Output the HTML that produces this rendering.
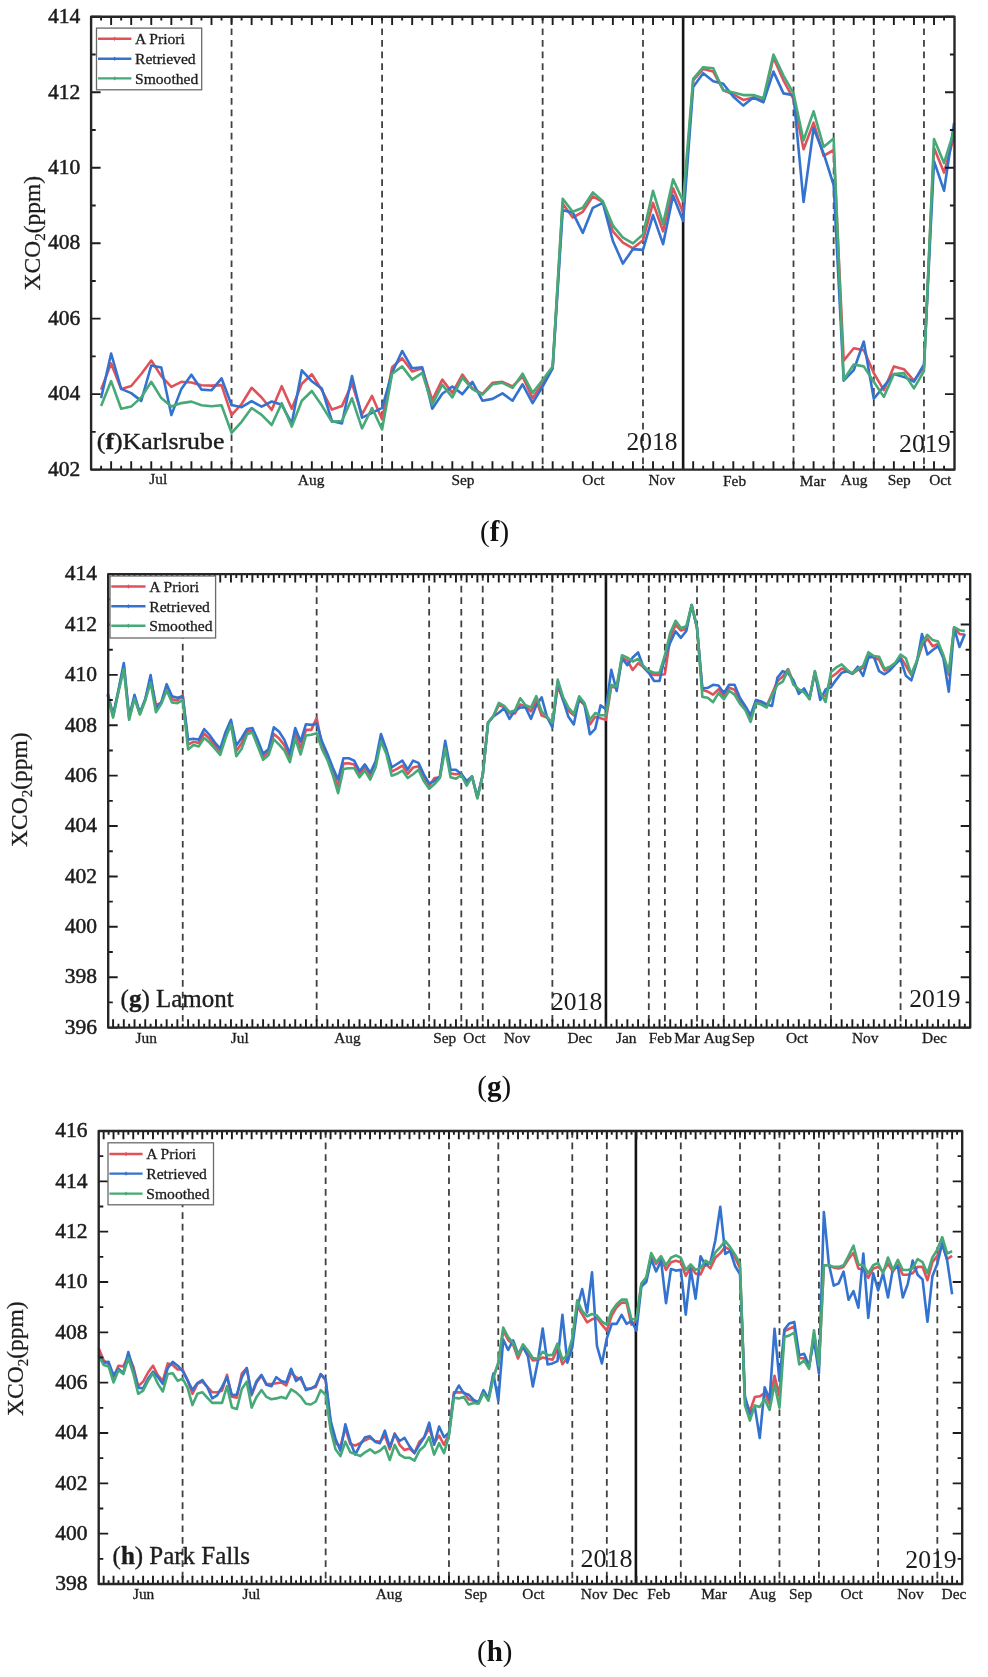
<!DOCTYPE html>
<html><head><meta charset="utf-8"><style>
html,body{margin:0;padding:0;background:#fff;}
svg{display:block;filter:blur(0.4px);}
</style></head><body>
<svg width="988" height="1677" viewBox="0 0 988 1677">
<rect width="988" height="1677" fill="#fff"/>
<line x1="231.56" y1="16.8" x2="231.56" y2="469.6" stroke="#404040" stroke-width="1.8" stroke-dasharray="6.7 4.9"/>
<line x1="382.08" y1="16.8" x2="382.08" y2="469.6" stroke="#404040" stroke-width="1.8" stroke-dasharray="6.7 4.9"/>
<line x1="542.64" y1="16.8" x2="542.64" y2="469.6" stroke="#404040" stroke-width="1.8" stroke-dasharray="6.7 4.9"/>
<line x1="642.99" y1="16.8" x2="642.99" y2="469.6" stroke="#404040" stroke-width="1.8" stroke-dasharray="6.7 4.9"/>
<line x1="793.51" y1="16.8" x2="793.51" y2="469.6" stroke="#404040" stroke-width="1.8" stroke-dasharray="6.7 4.9"/>
<line x1="833.66" y1="16.8" x2="833.66" y2="469.6" stroke="#404040" stroke-width="1.8" stroke-dasharray="6.7 4.9"/>
<line x1="873.8" y1="16.8" x2="873.8" y2="469.6" stroke="#404040" stroke-width="1.8" stroke-dasharray="6.7 4.9"/>
<line x1="923.97" y1="16.8" x2="923.97" y2="469.6" stroke="#404040" stroke-width="1.8" stroke-dasharray="6.7 4.9"/>
<line x1="683.13" y1="16.8" x2="683.13" y2="469.6" stroke="#141414" stroke-width="2.6"/>
<polyline points="101.1,389.6 111.13,363.4 121.17,388.9 131.2,386 141.24,374 151.27,360.5 161.31,376.1 171.34,386.8 181.38,381.8 191.41,382.5 201.45,385.3 211.49,385.6 221.52,385.1 231.56,415.2 241.59,404 251.62,387.8 261.66,397.5 271.69,410 281.73,386.2 291.76,408.8 301.8,383.7 311.84,374.3 321.87,390.2 331.9,409.6 341.94,406.1 351.98,383.7 362.01,414.5 372.04,395.9 382.08,419.3 392.12,367.3 402.15,358.2 412.18,371.5 422.22,368.3 432.25,400.1 442.29,379.6 452.33,392.9 462.36,374.6 472.39,388.3 482.43,393.8 492.47,382.8 502.5,381.9 512.53,386.5 522.57,376.5 532.61,398.3 542.64,382.8 552.67,367.3 562.71,203.7 572.75,217.5 582.78,211.8 592.82,196.4 602.85,202.1 612.88,231.3 622.92,242.6 632.96,248.3 642.99,240.2 653.02,202.9 663.06,231.3 673.1,188.3 683.13,212.5 693.17,80.5 703.2,69.1 713.24,71.6 723.27,90.2 733.31,94.3 743.34,99.9 753.38,97.5 763.41,100.7 773.45,57.8 783.48,80.5 793.51,99.1 803.55,149.3 813.59,122.6 823.62,155.8 833.66,150 843.69,360.6 853.73,348.2 863.76,350.1 873.8,373.1 883.83,390.2 893.87,366.4 903.9,369.2 913.94,380.7 923.97,367.3 934,147.7 944.04,172.6 954.08,136.3" fill="none" stroke="#e0525a" stroke-width="2.6" stroke-linejoin="round"/>
<polyline points="101.1,398.1 111.13,353.5 121.17,388.9 131.2,393.1 141.24,400.9 151.27,365.5 161.31,367.6 171.34,415.1 181.38,388.9 191.41,374.7 201.45,389.6 211.49,390.3 221.52,378.3 231.56,405 241.59,407.2 251.62,401.2 261.66,406.7 271.69,401.5 281.73,404.8 291.76,423.4 301.8,370.4 311.84,381.3 321.87,388.6 331.9,421 341.94,423.4 351.98,376 362.01,417.7 372.04,412.9 382.08,407.8 392.12,372.8 402.15,351 412.18,368.3 422.22,367.3 432.25,408.7 442.29,393.8 452.33,386.5 462.36,394.1 472.39,381.9 482.43,400.7 492.47,398.9 502.5,393.4 512.53,400.7 522.57,384.3 532.61,403.2 542.64,386.5 552.67,368.3 562.71,210.2 572.75,212.6 582.78,232.9 592.82,207.8 602.85,202.9 612.88,241 622.92,263.6 632.96,249.1 642.99,249.9 653.02,215.1 663.06,244.2 673.1,195.6 683.13,221 693.17,87 703.2,73.2 713.24,81.3 723.27,83.7 733.31,96.7 743.34,105.6 753.38,97.5 763.41,102.3 773.45,71.6 783.48,93.4 793.51,95.1 803.55,202 813.59,128.3 823.62,153.4 833.66,185 843.69,380.7 853.73,370.2 863.76,341.5 873.8,398.8 883.83,386.4 893.87,374 903.9,376.9 913.94,381.7 923.97,364.5 934,161.1 944.04,190.7 954.08,122.9" fill="none" stroke="#3372cf" stroke-width="2.6" stroke-linejoin="round"/>
<polyline points="101.1,405.9 111.13,381.1 121.17,408.7 131.2,406.6 141.24,397.4 151.27,381.8 161.31,398.1 171.34,406.6 181.38,403.1 191.41,401.6 201.45,405.2 211.49,406.3 221.52,405.2 231.56,432.8 241.59,421.8 251.62,408 261.66,414.8 271.69,425 281.73,403.2 291.76,426.6 301.8,400.7 311.84,391 321.87,405.6 331.9,421.8 341.94,421 351.98,398.3 362.01,428.3 372.04,408 382.08,429.5 392.12,373.7 402.15,366.4 412.18,379.6 422.22,372.8 432.25,404.7 442.29,384.7 452.33,397.4 462.36,377.7 472.39,389.2 482.43,394.7 492.47,384.3 502.5,382.8 512.53,387.9 522.57,373.7 532.61,392.9 542.64,380.1 552.67,366.4 562.71,198.9 572.75,211.8 582.78,207.8 592.82,192.4 602.85,201.3 612.88,225.6 622.92,237.7 632.96,243.4 642.99,234.5 653.02,190.8 663.06,224 673.1,179.4 683.13,201.2 693.17,78.9 703.2,67.2 713.24,68.3 723.27,90.2 733.31,92.6 743.34,95.1 753.38,95.1 763.41,98.3 773.45,54.6 783.48,75.6 793.51,93.4 803.55,140.4 813.59,111.3 823.62,146.9 833.66,138.5 843.69,379.7 853.73,364.5 863.76,366.4 873.8,381.7 883.83,396.9 893.87,374 903.9,373.1 913.94,388.3 923.97,371.1 934,139.1 944.04,163 954.08,130.6" fill="none" stroke="#46a977" stroke-width="2.6" stroke-linejoin="round"/>
<path d="M101.1 469.6v-3.8M101.1 16.8v3.8M111.13 469.6v-8.3M111.13 16.8v8.3M121.17 469.6v-3.8M121.17 16.8v3.8M131.2 469.6v-8.3M131.2 16.8v8.3M141.24 469.6v-3.8M141.24 16.8v3.8M151.27 469.6v-8.3M151.27 16.8v8.3M161.31 469.6v-3.8M161.31 16.8v3.8M171.34 469.6v-8.3M171.34 16.8v8.3M181.38 469.6v-3.8M181.38 16.8v3.8M191.41 469.6v-8.3M191.41 16.8v8.3M201.45 469.6v-3.8M201.45 16.8v3.8M211.49 469.6v-8.3M211.49 16.8v8.3M221.52 469.6v-3.8M221.52 16.8v3.8M231.56 469.6v-8.3M231.56 16.8v8.3M241.59 469.6v-3.8M241.59 16.8v3.8M251.62 469.6v-8.3M251.62 16.8v8.3M261.66 469.6v-3.8M261.66 16.8v3.8M271.69 469.6v-8.3M271.69 16.8v8.3M281.73 469.6v-3.8M281.73 16.8v3.8M291.76 469.6v-8.3M291.76 16.8v8.3M301.8 469.6v-3.8M301.8 16.8v3.8M311.84 469.6v-8.3M311.84 16.8v8.3M321.87 469.6v-3.8M321.87 16.8v3.8M331.9 469.6v-8.3M331.9 16.8v8.3M341.94 469.6v-3.8M341.94 16.8v3.8M351.98 469.6v-8.3M351.98 16.8v8.3M362.01 469.6v-3.8M362.01 16.8v3.8M372.04 469.6v-8.3M372.04 16.8v8.3M382.08 469.6v-3.8M382.08 16.8v3.8M392.12 469.6v-8.3M392.12 16.8v8.3M402.15 469.6v-3.8M402.15 16.8v3.8M412.18 469.6v-8.3M412.18 16.8v8.3M422.22 469.6v-3.8M422.22 16.8v3.8M432.25 469.6v-8.3M432.25 16.8v8.3M442.29 469.6v-3.8M442.29 16.8v3.8M452.33 469.6v-8.3M452.33 16.8v8.3M462.36 469.6v-3.8M462.36 16.8v3.8M472.39 469.6v-8.3M472.39 16.8v8.3M482.43 469.6v-3.8M482.43 16.8v3.8M492.47 469.6v-8.3M492.47 16.8v8.3M502.5 469.6v-3.8M502.5 16.8v3.8M512.53 469.6v-8.3M512.53 16.8v8.3M522.57 469.6v-3.8M522.57 16.8v3.8M532.61 469.6v-8.3M532.61 16.8v8.3M542.64 469.6v-3.8M542.64 16.8v3.8M552.67 469.6v-8.3M552.67 16.8v8.3M562.71 469.6v-3.8M562.71 16.8v3.8M572.75 469.6v-8.3M572.75 16.8v8.3M582.78 469.6v-3.8M582.78 16.8v3.8M592.82 469.6v-8.3M592.82 16.8v8.3M602.85 469.6v-3.8M602.85 16.8v3.8M612.88 469.6v-8.3M612.88 16.8v8.3M622.92 469.6v-3.8M622.92 16.8v3.8M632.96 469.6v-8.3M632.96 16.8v8.3M642.99 469.6v-3.8M642.99 16.8v3.8M653.02 469.6v-8.3M653.02 16.8v8.3M663.06 469.6v-3.8M663.06 16.8v3.8M673.1 469.6v-8.3M673.1 16.8v8.3M683.13 469.6v-3.8M683.13 16.8v3.8M693.17 469.6v-8.3M693.17 16.8v8.3M703.2 469.6v-3.8M703.2 16.8v3.8M713.24 469.6v-8.3M713.24 16.8v8.3M723.27 469.6v-3.8M723.27 16.8v3.8M733.31 469.6v-8.3M733.31 16.8v8.3M743.34 469.6v-3.8M743.34 16.8v3.8M753.38 469.6v-8.3M753.38 16.8v8.3M763.41 469.6v-3.8M763.41 16.8v3.8M773.45 469.6v-8.3M773.45 16.8v8.3M783.48 469.6v-3.8M783.48 16.8v3.8M793.51 469.6v-8.3M793.51 16.8v8.3M803.55 469.6v-3.8M803.55 16.8v3.8M813.59 469.6v-8.3M813.59 16.8v8.3M823.62 469.6v-3.8M823.62 16.8v3.8M833.66 469.6v-8.3M833.66 16.8v8.3M843.69 469.6v-3.8M843.69 16.8v3.8M853.73 469.6v-8.3M853.73 16.8v8.3M863.76 469.6v-3.8M863.76 16.8v3.8M873.8 469.6v-8.3M873.8 16.8v8.3M883.83 469.6v-3.8M883.83 16.8v3.8M893.87 469.6v-8.3M893.87 16.8v8.3M903.9 469.6v-3.8M903.9 16.8v3.8M913.94 469.6v-8.3M913.94 16.8v8.3M923.97 469.6v-3.8M923.97 16.8v3.8M934 469.6v-8.3M934 16.8v8.3M944.04 469.6v-3.8M944.04 16.8v3.8M91.1 469.6h9.5M954.5 469.6h-9.5M91.1 431.87h4.6M954.5 431.87h-4.6M91.1 394.13h9.5M954.5 394.13h-9.5M91.1 356.4h4.6M954.5 356.4h-4.6M91.1 318.67h9.5M954.5 318.67h-9.5M91.1 280.93h4.6M954.5 280.93h-4.6M91.1 243.2h9.5M954.5 243.2h-9.5M91.1 205.47h4.6M954.5 205.47h-4.6M91.1 167.73h9.5M954.5 167.73h-9.5M91.1 130h4.6M954.5 130h-4.6M91.1 92.27h9.5M954.5 92.27h-9.5M91.1 54.53h4.6M954.5 54.53h-4.6M91.1 16.8h9.5M954.5 16.8h-9.5" stroke="#1c1c1c" stroke-width="1.9" fill="none"/>
<rect x="91.1" y="16.8" width="863.4" height="452.8" fill="none" stroke="#262626" stroke-width="2.4" stroke-linejoin="round"/>
<text x="80.2" y="475.84" text-anchor="end" font-size="21.5" font-family="Liberation Serif" fill="#1c1c1c" stroke="#1c1c1c" stroke-width="0.5">402</text>
<text x="80.2" y="400.37" text-anchor="end" font-size="21.5" font-family="Liberation Serif" fill="#1c1c1c" stroke="#1c1c1c" stroke-width="0.5">404</text>
<text x="80.2" y="324.9" text-anchor="end" font-size="21.5" font-family="Liberation Serif" fill="#1c1c1c" stroke="#1c1c1c" stroke-width="0.5">406</text>
<text x="80.2" y="249.44" text-anchor="end" font-size="21.5" font-family="Liberation Serif" fill="#1c1c1c" stroke="#1c1c1c" stroke-width="0.5">408</text>
<text x="80.2" y="173.97" text-anchor="end" font-size="21.5" font-family="Liberation Serif" fill="#1c1c1c" stroke="#1c1c1c" stroke-width="0.5">410</text>
<text x="80.2" y="98.5" text-anchor="end" font-size="21.5" font-family="Liberation Serif" fill="#1c1c1c" stroke="#1c1c1c" stroke-width="0.5">412</text>
<text x="80.2" y="23.04" text-anchor="end" font-size="21.5" font-family="Liberation Serif" fill="#1c1c1c" stroke="#1c1c1c" stroke-width="0.5">414</text>
<text x="158.3" y="483.5" text-anchor="middle" font-size="15.4" font-family="Liberation Serif" fill="#1c1c1c" stroke="#1c1c1c" stroke-width="0.3">Jul</text>
<text x="311.1" y="484.7" text-anchor="middle" font-size="15.4" font-family="Liberation Serif" fill="#1c1c1c" stroke="#1c1c1c" stroke-width="0.3">Aug</text>
<text x="463" y="484.7" text-anchor="middle" font-size="15.4" font-family="Liberation Serif" fill="#1c1c1c" stroke="#1c1c1c" stroke-width="0.3">Sep</text>
<text x="593.4" y="484.7" text-anchor="middle" font-size="15.4" font-family="Liberation Serif" fill="#1c1c1c" stroke="#1c1c1c" stroke-width="0.3">Oct</text>
<text x="661.7" y="484.7" text-anchor="middle" font-size="15.4" font-family="Liberation Serif" fill="#1c1c1c" stroke="#1c1c1c" stroke-width="0.3">Nov</text>
<text x="734.6" y="485.7" text-anchor="middle" font-size="15.4" font-family="Liberation Serif" fill="#1c1c1c" stroke="#1c1c1c" stroke-width="0.3">Feb</text>
<text x="812.7" y="485.7" text-anchor="middle" font-size="15.4" font-family="Liberation Serif" fill="#1c1c1c" stroke="#1c1c1c" stroke-width="0.3">Mar</text>
<text x="854.1" y="484.7" text-anchor="middle" font-size="15.4" font-family="Liberation Serif" fill="#1c1c1c" stroke="#1c1c1c" stroke-width="0.3">Aug</text>
<text x="899.2" y="484.7" text-anchor="middle" font-size="15.4" font-family="Liberation Serif" fill="#1c1c1c" stroke="#1c1c1c" stroke-width="0.3">Sep</text>
<text x="940.3" y="484.7" text-anchor="middle" font-size="15.4" font-family="Liberation Serif" fill="#1c1c1c" stroke="#1c1c1c" stroke-width="0.3">Oct</text>
<text transform="translate(39.5,233.2) rotate(-90)" text-anchor="middle" font-size="23.5" font-family="Liberation Serif" fill="#1c1c1c" stroke="#1c1c1c" stroke-width="0.25">XCO<tspan font-size="15" dy="5">2</tspan><tspan dy="-5">(ppm)</tspan></text>
<text x="96.8" y="448.8" font-size="22.5" font-family="Liberation Serif" fill="#1c1c1c" stroke="#1c1c1c" stroke-width="0.35" textLength="127.6" lengthAdjust="spacingAndGlyphs"><tspan>(</tspan><tspan font-weight="bold">f</tspan><tspan>)Karlsrube</tspan></text>
<text x="626.6" y="450.3" font-size="25" font-family="Liberation Serif" fill="#1c1c1c" textLength="51" lengthAdjust="spacingAndGlyphs">2018</text>
<text x="899" y="452.4" font-size="25" font-family="Liberation Serif" fill="#1c1c1c" textLength="51.7" lengthAdjust="spacingAndGlyphs">2019</text>
<rect x="96.5" y="28.1" width="105.2" height="61.7" fill="#fff" stroke="#6a6a6a" stroke-width="1.3"/>
<line x1="98" y1="38.7" x2="131.4" y2="38.7" stroke="#e0525a" stroke-width="2.4"/>
<path d="M113.1 38.7L114.7 36.5L116.3 38.7L114.7 40.9Z" fill="#e0525a"/>
<text x="135" y="44" font-size="15.6" font-family="Liberation Serif" fill="#1c1c1c" stroke="#1c1c1c" stroke-width="0.3">A Priori</text>
<line x1="98" y1="58.7" x2="131.4" y2="58.7" stroke="#3372cf" stroke-width="2.4"/>
<path d="M113.1 58.7L114.7 56.5L116.3 58.7L114.7 60.9Z" fill="#3372cf"/>
<text x="135" y="64" font-size="15.6" font-family="Liberation Serif" fill="#1c1c1c" stroke="#1c1c1c" stroke-width="0.3">Retrieved</text>
<line x1="98" y1="78.4" x2="131.4" y2="78.4" stroke="#46a977" stroke-width="2.4"/>
<path d="M113.1 78.4L114.7 76.2L116.3 78.4L114.7 80.6Z" fill="#46a977"/>
<text x="135" y="83.7" font-size="15.6" font-family="Liberation Serif" fill="#1c1c1c" stroke="#1c1c1c" stroke-width="0.3">Smoothed</text>
<text x="480.1" y="541.3" font-size="29" font-family="Liberation Serif" fill="#111">(<tspan font-weight="bold">f</tspan>)</text>
<line x1="182.74" y1="574.1" x2="182.74" y2="1027.6" stroke="#404040" stroke-width="1.8" stroke-dasharray="6.7 4.9"/>
<line x1="316.66" y1="574.1" x2="316.66" y2="1027.6" stroke="#404040" stroke-width="1.8" stroke-dasharray="6.7 4.9"/>
<line x1="429.16" y1="574.1" x2="429.16" y2="1027.6" stroke="#404040" stroke-width="1.8" stroke-dasharray="6.7 4.9"/>
<line x1="461.3" y1="574.1" x2="461.3" y2="1027.6" stroke="#404040" stroke-width="1.8" stroke-dasharray="6.7 4.9"/>
<line x1="482.73" y1="574.1" x2="482.73" y2="1027.6" stroke="#404040" stroke-width="1.8" stroke-dasharray="6.7 4.9"/>
<line x1="552.37" y1="574.1" x2="552.37" y2="1027.6" stroke="#404040" stroke-width="1.8" stroke-dasharray="6.7 4.9"/>
<line x1="648.8" y1="574.1" x2="648.8" y2="1027.6" stroke="#404040" stroke-width="1.8" stroke-dasharray="6.7 4.9"/>
<line x1="664.87" y1="574.1" x2="664.87" y2="1027.6" stroke="#404040" stroke-width="1.8" stroke-dasharray="6.7 4.9"/>
<line x1="697.01" y1="574.1" x2="697.01" y2="1027.6" stroke="#404040" stroke-width="1.8" stroke-dasharray="6.7 4.9"/>
<line x1="723.8" y1="574.1" x2="723.8" y2="1027.6" stroke="#404040" stroke-width="1.8" stroke-dasharray="6.7 4.9"/>
<line x1="755.94" y1="574.1" x2="755.94" y2="1027.6" stroke="#404040" stroke-width="1.8" stroke-dasharray="6.7 4.9"/>
<line x1="830.94" y1="574.1" x2="830.94" y2="1027.6" stroke="#404040" stroke-width="1.8" stroke-dasharray="6.7 4.9"/>
<line x1="900.58" y1="574.1" x2="900.58" y2="1027.6" stroke="#404040" stroke-width="1.8" stroke-dasharray="6.7 4.9"/>
<line x1="605.94" y1="574.1" x2="605.94" y2="1027.6" stroke="#141414" stroke-width="2.6"/>
<polyline points="107.74,694.55 113.1,716.25 118.45,691 123.81,666 129.17,718.4 134.53,696.7 139.88,713.75 145.24,699.75 150.6,678.8 155.95,705 161.31,702.95 166.67,687.2 172.02,699.35 177.38,700.45 182.74,695.5 188.09,744.5 193.45,741.85 198.81,743 204.17,733.5 209.52,738.8 214.88,745.65 220.24,751.75 225.59,735 230.95,722.1 236.31,751 241.67,743.35 247.02,731.65 252.38,730.3 257.74,743.15 263.09,756.8 268.45,752.25 273.81,734 279.16,738.6 284.52,745.4 289.88,757.95 295.24,733.3 300.59,748.05 305.95,729.85 311.31,729.85 316.66,718.1 322.02,745.4 327.38,756.8 332.73,771.2 338.09,786.4 343.45,763.65 348.81,763.25 354.16,764.4 359.52,774.25 364.88,767.45 370.23,776.15 375.59,764.4 380.95,737.8 386.3,751.5 391.66,771.6 397.02,768.9 402.38,765.55 407.73,773.85 413.09,767.45 418.45,766.3 423.8,777.7 429.16,786.05 434.52,778 439.87,777.25 445.23,744.65 450.59,773.5 455.95,774.25 461.3,773.5 466.66,783.35 472.02,776.5 477.37,797.75 482.73,775 488.09,722.6 493.44,716.15 498.8,705.2 504.16,707.05 509.52,713.5 514.87,713.5 520.23,704.4 525.59,706.35 530.94,711.3 536.3,700.6 541.66,715.5 547.01,717.5 552.37,724 557.73,686.4 563.09,700.1 568.44,710.7 573.8,715.3 579.16,700.1 584.51,704.7 589.87,724.4 595.23,716.8 600.58,718.3 605.94,719.8 611.3,686.4 616.65,688 622.01,657.6 627.37,660.6 632.73,670 638.08,663.3 643.44,667 648.8,672.8 654.15,675 659.51,675 664.87,674.2 670.23,637.75 675.58,624.8 680.94,630.5 686.3,628.65 691.65,605 697.01,628 702.37,690 707.72,691.6 713.08,694.6 718.44,689.3 723.8,696.15 729.15,687.8 734.51,689.7 739.87,700.7 745.22,707.9 750.58,718.55 755.94,701.45 761.29,703 766.65,706 772.01,693.9 777.37,681.35 782.72,676.4 788.08,669 793.44,682.5 798.79,691.6 804.15,690.4 809.51,698.8 814.86,671.85 820.22,696.1 825.58,695.75 830.94,677.2 836.29,673.5 841.65,668.55 847.01,670.45 852.36,674 857.72,670 863.08,668 868.43,655 873.79,657.5 879.15,659.8 884.5,670.5 889.86,668.6 895.22,663.65 900.58,656.8 905.93,665.9 911.29,675 916.65,662.15 922,646 927.36,638.6 932.72,646.2 938.08,643.9 943.43,656.8 948.79,675 954.15,627.6 959.5,634 964.86,634.8" fill="none" stroke="#e0525a" stroke-width="2.6" stroke-linejoin="round"/>
<polyline points="107.74,693.6 113.1,714.9 118.45,690 123.81,663 129.17,717 134.53,694.8 139.88,713 145.24,699 150.6,675 155.95,709 161.31,702 166.67,684.2 172.02,696.3 177.38,697.8 182.74,696.3 188.09,739.6 193.45,738.8 198.81,739.6 204.17,729 209.52,735 214.88,742.6 220.24,748.7 225.59,732 230.95,719.8 236.31,745.6 241.67,738 247.02,729 252.38,728 257.74,740.1 263.09,753.8 268.45,749.2 273.81,727.2 279.16,731.7 284.52,740.1 289.88,753.8 295.24,728 300.59,741.6 305.95,724.2 311.31,724.9 316.66,723.4 322.02,741.6 327.38,753.8 332.73,767.4 338.09,779.6 343.45,758.3 348.81,758.3 354.16,760.6 359.52,771.2 364.88,764.4 370.23,772.7 375.59,761.4 380.95,734 386.3,749.2 391.66,767.4 397.02,764 402.38,760.6 407.73,769.7 413.09,760.6 418.45,762.9 423.8,774.3 429.16,783.4 434.52,781.1 439.87,776.5 445.23,740.9 450.59,769.7 455.95,769.7 461.3,774 466.66,781.1 472.02,776.5 477.37,797 482.73,775 488.09,722.6 493.44,716.5 498.8,712.8 504.16,708.2 509.52,718.8 514.87,710.5 520.23,707.5 525.59,707.5 530.94,718.8 536.3,705.2 541.66,697.3 547.01,716.8 552.37,727.4 557.73,681.9 563.09,700.1 568.44,716.8 573.8,724.4 579.16,698.6 584.51,704.7 589.87,734.3 595.23,728.9 600.58,705.4 605.94,709.2 611.3,669.7 616.65,691 622.01,658.3 627.37,665.2 632.73,657.5 638.08,652.5 643.44,667 648.8,672.7 654.15,681 659.51,681 664.87,657 670.23,642.6 675.58,631.3 680.94,637.8 686.3,631 691.65,605 697.01,628 702.37,688.5 707.72,687.8 713.08,684.8 718.44,685.5 723.8,693.1 729.15,684.8 734.51,684.8 739.87,697.7 745.22,706 750.58,715.1 755.94,699.9 761.29,701.5 766.65,704.5 772.01,706 777.37,677.9 782.72,671.1 788.08,673.4 793.44,680.2 798.79,693.9 804.15,688.5 809.51,698.4 814.86,672.6 820.22,699.9 825.58,689.5 830.94,687.2 836.29,679.6 841.65,672.7 847.01,671.2 852.36,673.5 857.72,666.7 863.08,675.8 868.43,657.6 873.79,656.8 879.15,671.2 884.5,674.3 889.86,670.5 895.22,664.4 900.58,659.1 905.93,675.8 911.29,680.3 916.65,662.9 922,634 927.36,654.5 932.72,650 938.08,646.2 943.43,658.3 948.79,691.7 954.15,628 959.5,646.9 964.86,634" fill="none" stroke="#3372cf" stroke-width="2.6" stroke-linejoin="round"/>
<polyline points="107.74,695.5 113.1,717.6 118.45,692 123.81,669 129.17,719.8 134.53,698.6 139.88,714.5 145.24,700.5 150.6,682.6 155.95,712.2 161.31,703.9 166.67,690.2 172.02,702.4 177.38,703.1 182.74,700.1 188.09,749.4 193.45,744.9 198.81,746.4 204.17,738 209.52,742.6 214.88,748.7 220.24,754.8 225.59,738 230.95,724.4 236.31,756.3 241.67,748.7 247.02,734.3 252.38,732.6 257.74,746.2 263.09,759.8 268.45,755.3 273.81,739.3 279.16,744.7 284.52,750.7 289.88,762.1 295.24,738.6 300.59,754.5 305.95,735.5 311.31,734.8 316.66,733.3 322.02,749.2 327.38,759.8 332.73,775 338.09,793.2 343.45,769 348.81,768.2 354.16,768.2 359.52,777.3 364.88,770.5 370.23,779.6 375.59,767.4 380.95,741.6 386.3,753.8 391.66,775.8 397.02,773.8 402.38,770.5 407.73,778 413.09,774.3 418.45,769.7 423.8,781.1 429.16,788.7 434.52,784.1 439.87,778 445.23,748.4 450.59,777.3 455.95,778.8 461.3,775 466.66,785.6 472.02,776.5 477.37,798.5 482.73,775 488.09,722.6 493.44,715.8 498.8,702.9 504.16,705.9 509.52,712 514.87,710.5 520.23,698.3 525.59,705.2 530.94,707.5 536.3,696.1 541.66,711.5 547.01,716.8 552.37,722.9 557.73,679.6 563.09,697.1 568.44,707.7 573.8,713.8 579.16,696.3 584.51,703.1 589.87,719.8 595.23,713 600.58,715.3 605.94,715.3 611.3,684.9 616.65,686.4 622.01,655.3 627.37,657.6 632.73,661.5 638.08,659 643.44,666 648.8,670.8 654.15,672.7 659.51,672.7 664.87,655.5 670.23,632.9 675.58,620.8 680.94,628 686.3,626.3 691.65,605 697.01,627 702.37,696.9 707.72,697.7 713.08,702.2 718.44,693.1 723.8,699.2 729.15,690.8 734.51,694.6 739.87,703.7 745.22,709.8 750.58,722 755.94,703 761.29,704.5 766.65,707.5 772.01,695.4 777.37,684.8 782.72,681.7 788.08,669.6 793.44,684.8 798.79,689.3 804.15,692.3 809.51,699.2 814.86,671.1 820.22,692.3 825.58,702 830.94,672 836.29,667.4 841.65,664.4 847.01,669.7 852.36,673.5 857.72,668.9 863.08,665.9 868.43,652.2 873.79,656 879.15,656.8 884.5,668.9 889.86,666.7 895.22,662.9 900.58,654.5 905.93,658.3 911.29,674.3 916.65,661.4 922,643.1 927.36,634.8 932.72,640.1 938.08,641.6 943.43,655.3 948.79,672 954.15,627.2 959.5,630.2 964.86,631" fill="none" stroke="#46a977" stroke-width="2.6" stroke-linejoin="round"/>
<path d="M113.1 1027.6v-8.3M113.1 574.1v8.3M118.45 1027.6v-3.8M118.45 574.1v3.8M123.81 1027.6v-8.3M123.81 574.1v8.3M129.17 1027.6v-3.8M129.17 574.1v3.8M134.53 1027.6v-8.3M134.53 574.1v8.3M139.88 1027.6v-3.8M139.88 574.1v3.8M145.24 1027.6v-8.3M145.24 574.1v8.3M150.6 1027.6v-3.8M150.6 574.1v3.8M155.95 1027.6v-8.3M155.95 574.1v8.3M161.31 1027.6v-3.8M161.31 574.1v3.8M166.67 1027.6v-8.3M166.67 574.1v8.3M172.02 1027.6v-3.8M172.02 574.1v3.8M177.38 1027.6v-8.3M177.38 574.1v8.3M182.74 1027.6v-3.8M182.74 574.1v3.8M188.09 1027.6v-8.3M188.09 574.1v8.3M193.45 1027.6v-3.8M193.45 574.1v3.8M198.81 1027.6v-8.3M198.81 574.1v8.3M204.17 1027.6v-3.8M204.17 574.1v3.8M209.52 1027.6v-8.3M209.52 574.1v8.3M214.88 1027.6v-3.8M214.88 574.1v3.8M220.24 1027.6v-8.3M220.24 574.1v8.3M225.59 1027.6v-3.8M225.59 574.1v3.8M230.95 1027.6v-8.3M230.95 574.1v8.3M236.31 1027.6v-3.8M236.31 574.1v3.8M241.67 1027.6v-8.3M241.67 574.1v8.3M247.02 1027.6v-3.8M247.02 574.1v3.8M252.38 1027.6v-8.3M252.38 574.1v8.3M257.74 1027.6v-3.8M257.74 574.1v3.8M263.09 1027.6v-8.3M263.09 574.1v8.3M268.45 1027.6v-3.8M268.45 574.1v3.8M273.81 1027.6v-8.3M273.81 574.1v8.3M279.16 1027.6v-3.8M279.16 574.1v3.8M284.52 1027.6v-8.3M284.52 574.1v8.3M289.88 1027.6v-3.8M289.88 574.1v3.8M295.24 1027.6v-8.3M295.24 574.1v8.3M300.59 1027.6v-3.8M300.59 574.1v3.8M305.95 1027.6v-8.3M305.95 574.1v8.3M311.31 1027.6v-3.8M311.31 574.1v3.8M316.66 1027.6v-8.3M316.66 574.1v8.3M322.02 1027.6v-3.8M322.02 574.1v3.8M327.38 1027.6v-8.3M327.38 574.1v8.3M332.73 1027.6v-3.8M332.73 574.1v3.8M338.09 1027.6v-8.3M338.09 574.1v8.3M343.45 1027.6v-3.8M343.45 574.1v3.8M348.81 1027.6v-8.3M348.81 574.1v8.3M354.16 1027.6v-3.8M354.16 574.1v3.8M359.52 1027.6v-8.3M359.52 574.1v8.3M364.88 1027.6v-3.8M364.88 574.1v3.8M370.23 1027.6v-8.3M370.23 574.1v8.3M375.59 1027.6v-3.8M375.59 574.1v3.8M380.95 1027.6v-8.3M380.95 574.1v8.3M386.3 1027.6v-3.8M386.3 574.1v3.8M391.66 1027.6v-8.3M391.66 574.1v8.3M397.02 1027.6v-3.8M397.02 574.1v3.8M402.38 1027.6v-8.3M402.38 574.1v8.3M407.73 1027.6v-3.8M407.73 574.1v3.8M413.09 1027.6v-8.3M413.09 574.1v8.3M418.45 1027.6v-3.8M418.45 574.1v3.8M423.8 1027.6v-8.3M423.8 574.1v8.3M429.16 1027.6v-3.8M429.16 574.1v3.8M434.52 1027.6v-8.3M434.52 574.1v8.3M439.87 1027.6v-3.8M439.87 574.1v3.8M445.23 1027.6v-8.3M445.23 574.1v8.3M450.59 1027.6v-3.8M450.59 574.1v3.8M455.95 1027.6v-8.3M455.95 574.1v8.3M461.3 1027.6v-3.8M461.3 574.1v3.8M466.66 1027.6v-8.3M466.66 574.1v8.3M472.02 1027.6v-3.8M472.02 574.1v3.8M477.37 1027.6v-8.3M477.37 574.1v8.3M482.73 1027.6v-3.8M482.73 574.1v3.8M488.09 1027.6v-8.3M488.09 574.1v8.3M493.44 1027.6v-3.8M493.44 574.1v3.8M498.8 1027.6v-8.3M498.8 574.1v8.3M504.16 1027.6v-3.8M504.16 574.1v3.8M509.52 1027.6v-8.3M509.52 574.1v8.3M514.87 1027.6v-3.8M514.87 574.1v3.8M520.23 1027.6v-8.3M520.23 574.1v8.3M525.59 1027.6v-3.8M525.59 574.1v3.8M530.94 1027.6v-8.3M530.94 574.1v8.3M536.3 1027.6v-3.8M536.3 574.1v3.8M541.66 1027.6v-8.3M541.66 574.1v8.3M547.01 1027.6v-3.8M547.01 574.1v3.8M552.37 1027.6v-8.3M552.37 574.1v8.3M557.73 1027.6v-3.8M557.73 574.1v3.8M563.09 1027.6v-8.3M563.09 574.1v8.3M568.44 1027.6v-3.8M568.44 574.1v3.8M573.8 1027.6v-8.3M573.8 574.1v8.3M579.16 1027.6v-3.8M579.16 574.1v3.8M584.51 1027.6v-8.3M584.51 574.1v8.3M589.87 1027.6v-3.8M589.87 574.1v3.8M595.23 1027.6v-8.3M595.23 574.1v8.3M600.58 1027.6v-3.8M600.58 574.1v3.8M605.94 1027.6v-8.3M605.94 574.1v8.3M611.3 1027.6v-3.8M611.3 574.1v3.8M616.65 1027.6v-8.3M616.65 574.1v8.3M622.01 1027.6v-3.8M622.01 574.1v3.8M627.37 1027.6v-8.3M627.37 574.1v8.3M632.73 1027.6v-3.8M632.73 574.1v3.8M638.08 1027.6v-8.3M638.08 574.1v8.3M643.44 1027.6v-3.8M643.44 574.1v3.8M648.8 1027.6v-8.3M648.8 574.1v8.3M654.15 1027.6v-3.8M654.15 574.1v3.8M659.51 1027.6v-8.3M659.51 574.1v8.3M664.87 1027.6v-3.8M664.87 574.1v3.8M670.23 1027.6v-8.3M670.23 574.1v8.3M675.58 1027.6v-3.8M675.58 574.1v3.8M680.94 1027.6v-8.3M680.94 574.1v8.3M686.3 1027.6v-3.8M686.3 574.1v3.8M691.65 1027.6v-8.3M691.65 574.1v8.3M697.01 1027.6v-3.8M697.01 574.1v3.8M702.37 1027.6v-8.3M702.37 574.1v8.3M707.72 1027.6v-3.8M707.72 574.1v3.8M713.08 1027.6v-8.3M713.08 574.1v8.3M718.44 1027.6v-3.8M718.44 574.1v3.8M723.8 1027.6v-8.3M723.8 574.1v8.3M729.15 1027.6v-3.8M729.15 574.1v3.8M734.51 1027.6v-8.3M734.51 574.1v8.3M739.87 1027.6v-3.8M739.87 574.1v3.8M745.22 1027.6v-8.3M745.22 574.1v8.3M750.58 1027.6v-3.8M750.58 574.1v3.8M755.94 1027.6v-8.3M755.94 574.1v8.3M761.29 1027.6v-3.8M761.29 574.1v3.8M766.65 1027.6v-8.3M766.65 574.1v8.3M772.01 1027.6v-3.8M772.01 574.1v3.8M777.37 1027.6v-8.3M777.37 574.1v8.3M782.72 1027.6v-3.8M782.72 574.1v3.8M788.08 1027.6v-8.3M788.08 574.1v8.3M793.44 1027.6v-3.8M793.44 574.1v3.8M798.79 1027.6v-8.3M798.79 574.1v8.3M804.15 1027.6v-3.8M804.15 574.1v3.8M809.51 1027.6v-8.3M809.51 574.1v8.3M814.86 1027.6v-3.8M814.86 574.1v3.8M820.22 1027.6v-8.3M820.22 574.1v8.3M825.58 1027.6v-3.8M825.58 574.1v3.8M830.94 1027.6v-8.3M830.94 574.1v8.3M836.29 1027.6v-3.8M836.29 574.1v3.8M841.65 1027.6v-8.3M841.65 574.1v8.3M847.01 1027.6v-3.8M847.01 574.1v3.8M852.36 1027.6v-8.3M852.36 574.1v8.3M857.72 1027.6v-3.8M857.72 574.1v3.8M863.08 1027.6v-8.3M863.08 574.1v8.3M868.43 1027.6v-3.8M868.43 574.1v3.8M873.79 1027.6v-8.3M873.79 574.1v8.3M879.15 1027.6v-3.8M879.15 574.1v3.8M884.5 1027.6v-8.3M884.5 574.1v8.3M889.86 1027.6v-3.8M889.86 574.1v3.8M895.22 1027.6v-8.3M895.22 574.1v8.3M900.58 1027.6v-3.8M900.58 574.1v3.8M905.93 1027.6v-8.3M905.93 574.1v8.3M911.29 1027.6v-3.8M911.29 574.1v3.8M916.65 1027.6v-8.3M916.65 574.1v8.3M922 1027.6v-3.8M922 574.1v3.8M927.36 1027.6v-8.3M927.36 574.1v8.3M932.72 1027.6v-3.8M932.72 574.1v3.8M938.08 1027.6v-8.3M938.08 574.1v8.3M943.43 1027.6v-3.8M943.43 574.1v3.8M948.79 1027.6v-8.3M948.79 574.1v8.3M954.15 1027.6v-3.8M954.15 574.1v3.8M959.5 1027.6v-8.3M959.5 574.1v8.3M964.86 1027.6v-3.8M964.86 574.1v3.8M108.2 1027.6h9.5M970.2 1027.6h-9.5M108.2 1002.41h4.6M970.2 1002.41h-4.6M108.2 977.21h9.5M970.2 977.21h-9.5M108.2 952.02h4.6M970.2 952.02h-4.6M108.2 926.82h9.5M970.2 926.82h-9.5M108.2 901.63h4.6M970.2 901.63h-4.6M108.2 876.43h9.5M970.2 876.43h-9.5M108.2 851.24h4.6M970.2 851.24h-4.6M108.2 826.04h9.5M970.2 826.04h-9.5M108.2 800.85h4.6M970.2 800.85h-4.6M108.2 775.66h9.5M970.2 775.66h-9.5M108.2 750.46h4.6M970.2 750.46h-4.6M108.2 725.27h9.5M970.2 725.27h-9.5M108.2 700.07h4.6M970.2 700.07h-4.6M108.2 674.88h9.5M970.2 674.88h-9.5M108.2 649.68h4.6M970.2 649.68h-4.6M108.2 624.49h9.5M970.2 624.49h-9.5M108.2 599.29h4.6M970.2 599.29h-4.6M108.2 574.1h9.5M970.2 574.1h-9.5" stroke="#1c1c1c" stroke-width="1.9" fill="none"/>
<rect x="108.2" y="574.1" width="862" height="453.5" fill="none" stroke="#262626" stroke-width="2.4" stroke-linejoin="round"/>
<text x="97" y="1033.83" text-anchor="end" font-size="21.5" font-family="Liberation Serif" fill="#1c1c1c" stroke="#1c1c1c" stroke-width="0.5">396</text>
<text x="97" y="983.45" text-anchor="end" font-size="21.5" font-family="Liberation Serif" fill="#1c1c1c" stroke="#1c1c1c" stroke-width="0.5">398</text>
<text x="97" y="933.06" text-anchor="end" font-size="21.5" font-family="Liberation Serif" fill="#1c1c1c" stroke="#1c1c1c" stroke-width="0.5">400</text>
<text x="97" y="882.67" text-anchor="end" font-size="21.5" font-family="Liberation Serif" fill="#1c1c1c" stroke="#1c1c1c" stroke-width="0.5">402</text>
<text x="97" y="832.28" text-anchor="end" font-size="21.5" font-family="Liberation Serif" fill="#1c1c1c" stroke="#1c1c1c" stroke-width="0.5">404</text>
<text x="97" y="781.89" text-anchor="end" font-size="21.5" font-family="Liberation Serif" fill="#1c1c1c" stroke="#1c1c1c" stroke-width="0.5">406</text>
<text x="97" y="731.5" text-anchor="end" font-size="21.5" font-family="Liberation Serif" fill="#1c1c1c" stroke="#1c1c1c" stroke-width="0.5">408</text>
<text x="97" y="681.11" text-anchor="end" font-size="21.5" font-family="Liberation Serif" fill="#1c1c1c" stroke="#1c1c1c" stroke-width="0.5">410</text>
<text x="97" y="630.72" text-anchor="end" font-size="21.5" font-family="Liberation Serif" fill="#1c1c1c" stroke="#1c1c1c" stroke-width="0.5">412</text>
<text x="97" y="580.34" text-anchor="end" font-size="21.5" font-family="Liberation Serif" fill="#1c1c1c" stroke="#1c1c1c" stroke-width="0.5">414</text>
<text x="146.2" y="1042.7" text-anchor="middle" font-size="15.4" font-family="Liberation Serif" fill="#1c1c1c" stroke="#1c1c1c" stroke-width="0.3">Jun</text>
<text x="239.7" y="1042.7" text-anchor="middle" font-size="15.4" font-family="Liberation Serif" fill="#1c1c1c" stroke="#1c1c1c" stroke-width="0.3">Jul</text>
<text x="347.5" y="1042.7" text-anchor="middle" font-size="15.4" font-family="Liberation Serif" fill="#1c1c1c" stroke="#1c1c1c" stroke-width="0.3">Aug</text>
<text x="444.7" y="1042.7" text-anchor="middle" font-size="15.4" font-family="Liberation Serif" fill="#1c1c1c" stroke="#1c1c1c" stroke-width="0.3">Sep</text>
<text x="474.4" y="1042.7" text-anchor="middle" font-size="15.4" font-family="Liberation Serif" fill="#1c1c1c" stroke="#1c1c1c" stroke-width="0.3">Oct</text>
<text x="517" y="1042.7" text-anchor="middle" font-size="15.4" font-family="Liberation Serif" fill="#1c1c1c" stroke="#1c1c1c" stroke-width="0.3">Nov</text>
<text x="579.8" y="1042.7" text-anchor="middle" font-size="15.4" font-family="Liberation Serif" fill="#1c1c1c" stroke="#1c1c1c" stroke-width="0.3">Dec</text>
<text x="626.3" y="1042.7" text-anchor="middle" font-size="15.4" font-family="Liberation Serif" fill="#1c1c1c" stroke="#1c1c1c" stroke-width="0.3">Jan</text>
<text x="660.3" y="1042.7" text-anchor="middle" font-size="15.4" font-family="Liberation Serif" fill="#1c1c1c" stroke="#1c1c1c" stroke-width="0.3">Feb</text>
<text x="687" y="1042.7" text-anchor="middle" font-size="15.4" font-family="Liberation Serif" fill="#1c1c1c" stroke="#1c1c1c" stroke-width="0.3">Mar</text>
<text x="717" y="1042.7" text-anchor="middle" font-size="15.4" font-family="Liberation Serif" fill="#1c1c1c" stroke="#1c1c1c" stroke-width="0.3">Aug</text>
<text x="743.2" y="1042.7" text-anchor="middle" font-size="15.4" font-family="Liberation Serif" fill="#1c1c1c" stroke="#1c1c1c" stroke-width="0.3">Sep</text>
<text x="797" y="1042.7" text-anchor="middle" font-size="15.4" font-family="Liberation Serif" fill="#1c1c1c" stroke="#1c1c1c" stroke-width="0.3">Oct</text>
<text x="865.2" y="1042.7" text-anchor="middle" font-size="15.4" font-family="Liberation Serif" fill="#1c1c1c" stroke="#1c1c1c" stroke-width="0.3">Nov</text>
<text x="934.5" y="1042.7" text-anchor="middle" font-size="15.4" font-family="Liberation Serif" fill="#1c1c1c" stroke="#1c1c1c" stroke-width="0.3">Dec</text>
<text transform="translate(26.8,789.7) rotate(-90)" text-anchor="middle" font-size="23.5" font-family="Liberation Serif" fill="#1c1c1c" stroke="#1c1c1c" stroke-width="0.25">XCO<tspan font-size="15" dy="5">2</tspan><tspan dy="-5">(ppm)</tspan></text>
<text x="120.6" y="1006.6" font-size="25" font-family="Liberation Serif" fill="#1c1c1c" stroke="#1c1c1c" stroke-width="0.35" textLength="113" lengthAdjust="spacing"><tspan>(</tspan><tspan font-weight="bold">g</tspan><tspan>) Lamont</tspan></text>
<text x="551" y="1009.5" font-size="25" font-family="Liberation Serif" fill="#1c1c1c" textLength="51.2" lengthAdjust="spacingAndGlyphs">2018</text>
<text x="909.3" y="1007.3" font-size="25" font-family="Liberation Serif" fill="#1c1c1c" textLength="51.3" lengthAdjust="spacingAndGlyphs">2019</text>
<rect x="110" y="576" width="105.6" height="62" fill="#fff" stroke="#6a6a6a" stroke-width="1.3"/>
<line x1="111.3" y1="586.5" x2="145.5" y2="586.5" stroke="#e0525a" stroke-width="2.4"/>
<path d="M126.8 586.5L128.4 584.3L130 586.5L128.4 588.7Z" fill="#e0525a"/>
<text x="149.3" y="591.8" font-size="15.6" font-family="Liberation Serif" fill="#1c1c1c" stroke="#1c1c1c" stroke-width="0.3">A Priori</text>
<line x1="111.3" y1="606.3" x2="145.5" y2="606.3" stroke="#3372cf" stroke-width="2.4"/>
<path d="M126.8 606.3L128.4 604.1L130 606.3L128.4 608.5Z" fill="#3372cf"/>
<text x="149.3" y="611.6" font-size="15.6" font-family="Liberation Serif" fill="#1c1c1c" stroke="#1c1c1c" stroke-width="0.3">Retrieved</text>
<line x1="111.3" y1="625.8" x2="145.5" y2="625.8" stroke="#46a977" stroke-width="2.4"/>
<path d="M126.8 625.8L128.4 623.6L130 625.8L128.4 628Z" fill="#46a977"/>
<text x="149.3" y="631.1" font-size="15.6" font-family="Liberation Serif" fill="#1c1c1c" stroke="#1c1c1c" stroke-width="0.3">Smoothed</text>
<text x="477.3" y="1095.5" font-size="29" font-family="Liberation Serif" fill="#111">(<tspan font-weight="bold">g</tspan>)</text>
<line x1="182.58" y1="1131" x2="182.58" y2="1584" stroke="#404040" stroke-width="1.8" stroke-dasharray="6.7 4.9"/>
<line x1="325.64" y1="1131" x2="325.64" y2="1584" stroke="#404040" stroke-width="1.8" stroke-dasharray="6.7 4.9"/>
<line x1="448.96" y1="1131" x2="448.96" y2="1584" stroke="#404040" stroke-width="1.8" stroke-dasharray="6.7 4.9"/>
<line x1="498.29" y1="1131" x2="498.29" y2="1584" stroke="#404040" stroke-width="1.8" stroke-dasharray="6.7 4.9"/>
<line x1="572.29" y1="1131" x2="572.29" y2="1584" stroke="#404040" stroke-width="1.8" stroke-dasharray="6.7 4.9"/>
<line x1="606.82" y1="1131" x2="606.82" y2="1584" stroke="#404040" stroke-width="1.8" stroke-dasharray="6.7 4.9"/>
<line x1="680.81" y1="1131" x2="680.81" y2="1584" stroke="#404040" stroke-width="1.8" stroke-dasharray="6.7 4.9"/>
<line x1="740.01" y1="1131" x2="740.01" y2="1584" stroke="#404040" stroke-width="1.8" stroke-dasharray="6.7 4.9"/>
<line x1="779.47" y1="1131" x2="779.47" y2="1584" stroke="#404040" stroke-width="1.8" stroke-dasharray="6.7 4.9"/>
<line x1="818.94" y1="1131" x2="818.94" y2="1584" stroke="#404040" stroke-width="1.8" stroke-dasharray="6.7 4.9"/>
<line x1="878.13" y1="1131" x2="878.13" y2="1584" stroke="#404040" stroke-width="1.8" stroke-dasharray="6.7 4.9"/>
<line x1="937.33" y1="1131" x2="937.33" y2="1584" stroke="#404040" stroke-width="1.8" stroke-dasharray="6.7 4.9"/>
<line x1="635.9" y1="1131" x2="635.9" y2="1584" stroke="#141414" stroke-width="2.6"/>
<polyline points="98.72,1348.2 103.65,1360.4 108.59,1364 113.52,1377 118.45,1365.7 123.38,1366.4 128.32,1355 133.25,1366.4 138.18,1386.2 143.12,1381.6 148.05,1372.5 152.98,1365.7 157.92,1375.5 162.85,1380.9 167.78,1363.4 172.72,1365 177.65,1369.5 182.58,1369.5 187.51,1380.1 192.45,1393.8 197.38,1383.9 202.31,1381.6 207.25,1386.9 212.18,1392.2 217.11,1392.2 222.04,1390.7 226.98,1374.8 231.91,1396.8 236.84,1397.6 241.78,1373.7 246.71,1368.1 251.64,1395.4 256.58,1382.5 261.51,1375.7 266.44,1384 271.38,1384 276.31,1383.3 281.24,1382.5 286.17,1385.5 291.11,1372.6 296.04,1377.2 300.97,1379.5 305.91,1388.6 310.84,1388.6 315.77,1387 320.7,1374.2 325.64,1380.2 330.57,1422 335.5,1443.2 340.44,1446.3 345.37,1428 350.3,1444 355.24,1445.5 360.17,1443.2 365.1,1440.2 370.03,1437.9 374.97,1441 379.9,1441.7 384.83,1435.6 389.77,1449.3 394.7,1433.4 399.63,1444.8 404.57,1450.1 409.5,1448.5 414.43,1453.1 419.37,1441.7 424.3,1437.2 429.23,1428 434.16,1443.2 439.1,1435.6 444.03,1444.8 448.96,1434 453.9,1392.4 458.83,1392.4 463.76,1392.4 468.69,1399.2 473.63,1400.7 478.56,1403 483.49,1391.5 488.43,1399.5 493.36,1376 498.29,1364 503.23,1330.7 508.16,1340 513.09,1344.5 518.02,1358.5 522.96,1346.5 527.89,1352.8 532.82,1360.5 537.76,1360 542.69,1357.5 547.62,1358.8 552.56,1359.6 557.49,1349 562.42,1364.1 567.36,1358 572.29,1341 577.22,1306.4 582.15,1314 587.09,1322.4 592.02,1319.3 596.95,1318 601.89,1324.7 606.82,1330.7 611.75,1315.5 616.69,1307.2 621.62,1302.6 626.55,1302.6 631.48,1324.6 636.42,1321 641.35,1285 646.28,1279 651.22,1255 656.15,1264 661.08,1258 666.01,1269.8 670.95,1262.2 675.88,1260.7 680.81,1262.2 685.75,1275.9 690.68,1266.8 695.61,1273.6 700.55,1274.4 705.48,1263.8 710.41,1268.3 715.35,1257.7 720.28,1253.1 725.21,1247.1 730.14,1250 735.08,1257.7 740.01,1268.3 744.94,1399.3 749.88,1411.5 754.81,1397 759.74,1396.3 764.67,1393.2 769.61,1403.8 774.54,1375.8 779.47,1396 784.41,1331 789.34,1328.7 794.27,1326.4 799.21,1358.3 804.14,1358.3 809.07,1367.4 814,1334 818.94,1365.9 823.87,1265.3 828.8,1265.3 833.74,1267.7 838.67,1268.4 843.6,1266.9 848.54,1259 853.47,1252.8 858.4,1268.4 863.34,1270 868.27,1277.9 873.2,1268.4 878.13,1266.9 883.07,1271.6 888,1263.7 892.93,1271.6 897.87,1264.5 902.8,1274.7 907.73,1274.7 912.66,1273.2 917.6,1266.9 922.53,1266.9 927.46,1280.2 932.4,1262.2 937.33,1255.9 942.26,1244.9 947.2,1259 952.13,1255.9" fill="none" stroke="#e0525a" stroke-width="2.6" stroke-linejoin="round"/>
<polyline points="98.72,1354.3 103.65,1362.6 108.59,1361.9 113.52,1375.5 118.45,1368.7 123.38,1373.3 128.32,1352 133.25,1369.5 138.18,1387.7 143.12,1388.4 148.05,1378.6 152.98,1371.7 157.92,1377.1 162.85,1383.9 167.78,1368 172.72,1361.9 177.65,1365.7 182.58,1371 187.51,1380.1 192.45,1390 197.38,1383.1 202.31,1380.1 207.25,1386.9 212.18,1398.3 217.11,1395.3 222.04,1386.9 226.98,1377.1 231.91,1395.3 236.84,1394.5 241.78,1377.5 246.71,1368.1 251.64,1393.9 256.58,1381 261.51,1374.9 266.44,1384.8 271.38,1386.3 276.31,1377.2 281.24,1381 286.17,1382.5 291.11,1368.8 296.04,1381 300.97,1377.2 305.91,1390.1 310.84,1388.6 315.77,1385.5 320.7,1374.2 325.64,1379.5 330.57,1420.5 335.5,1438.7 340.44,1450.8 345.37,1424.3 350.3,1441.7 355.24,1454.6 360.17,1444.8 365.1,1437.2 370.03,1436.4 374.97,1441.7 379.9,1443.2 384.83,1430.7 389.77,1447 394.7,1434.1 399.63,1441 404.57,1437.9 409.5,1446.3 414.43,1453.1 419.37,1444.8 424.3,1437.2 429.23,1422.7 434.16,1444.8 439.1,1426.5 444.03,1437.2 448.96,1432.6 453.9,1394.7 458.83,1385.5 463.76,1393.1 468.69,1394.7 473.63,1400 478.56,1402.2 483.49,1390.1 488.43,1398.4 493.36,1373.6 498.29,1401 503.23,1339.6 508.16,1350 513.09,1340.3 518.02,1354 522.96,1346.8 527.89,1356.2 532.82,1386.5 537.76,1361.8 542.69,1328.5 547.62,1364.5 552.56,1363.4 557.49,1361.1 562.42,1314.8 567.36,1362.6 572.29,1347.4 577.22,1308 582.15,1289 587.09,1312.5 592.02,1272.3 596.95,1345.9 601.89,1363.4 606.82,1338.3 611.75,1323.9 616.69,1323.9 621.62,1314.8 626.55,1323.9 631.48,1321 636.42,1330.6 641.35,1286.5 646.28,1282 651.22,1259.2 656.15,1271.4 661.08,1260.7 666.01,1303.2 670.95,1269.1 675.88,1270.6 680.81,1269.8 685.75,1314.6 690.68,1269.1 695.61,1298.7 700.55,1256.2 705.48,1265.3 710.41,1262.2 715.35,1240.2 720.28,1206.8 725.21,1253.9 730.14,1250.9 735.08,1266 740.01,1274.4 744.94,1396.3 749.88,1414.5 754.81,1406.9 759.74,1438 764.67,1387.2 769.61,1399.3 774.54,1328.7 779.47,1381 784.41,1329.5 789.34,1323.4 794.27,1321.9 799.21,1355.3 804.14,1353.8 809.07,1365.9 814,1340.1 818.94,1373.5 823.87,1212 828.8,1263.7 833.74,1285.7 838.67,1283.3 843.6,1271.6 848.54,1299.8 853.47,1291.2 858.4,1307.7 863.34,1253.5 868.27,1317.9 873.2,1273.2 878.13,1290.4 883.07,1273.2 888,1297.5 892.93,1268.4 897.87,1266.9 902.8,1297.5 907.73,1284.1 912.66,1260.6 917.6,1274.7 922.53,1279.4 927.46,1321.8 932.4,1276.3 937.33,1263.7 942.26,1243.3 947.2,1260.6 952.13,1294.3" fill="none" stroke="#3372cf" stroke-width="2.6" stroke-linejoin="round"/>
<polyline points="98.72,1355.8 103.65,1364.9 108.59,1366.4 113.52,1382.4 118.45,1370.2 123.38,1374 128.32,1358.1 133.25,1373.3 138.18,1393.8 143.12,1390.7 148.05,1380.9 152.98,1373.3 157.92,1383.9 162.85,1391.5 167.78,1374 172.72,1373.3 177.65,1380.9 182.58,1378.6 187.51,1387.7 192.45,1405.1 197.38,1393.8 202.31,1392.2 207.25,1397.6 212.18,1402.9 217.11,1402.9 222.04,1402.9 226.98,1386.2 231.91,1407.4 236.84,1409 241.78,1389 246.71,1381.7 251.64,1407.6 256.58,1396.9 261.51,1390.1 266.44,1396.9 271.38,1399.2 276.31,1398.4 281.24,1396.9 286.17,1398.4 291.11,1389.3 296.04,1392.4 300.97,1396.9 305.91,1403.8 310.84,1404.5 315.77,1401.5 320.7,1390.1 325.64,1394.7 330.57,1429.6 335.5,1449.3 340.44,1456.1 345.37,1441.7 350.3,1452.3 355.24,1453.9 360.17,1456.1 365.1,1452.3 370.03,1449.3 374.97,1453.1 379.9,1450.8 384.83,1446.3 389.77,1460 394.7,1444.8 399.63,1454.6 404.57,1457.7 409.5,1457.7 414.43,1460.7 419.37,1450.8 424.3,1446.3 429.23,1437.2 434.16,1454.6 439.1,1443.2 444.03,1453.1 448.96,1435.6 453.9,1397.7 458.83,1398.4 463.76,1396.9 468.69,1404.5 473.63,1403 478.56,1403.8 483.49,1393.1 488.43,1400.7 493.36,1378.3 498.29,1362.5 503.23,1327.5 508.16,1337 513.09,1343 518.02,1355.4 522.96,1344.4 527.89,1350.5 532.82,1358 537.76,1358.7 542.69,1351.8 547.62,1355.1 552.56,1355 557.49,1343.6 562.42,1359.6 567.36,1355 572.29,1338.3 577.22,1300.4 582.15,1311 587.09,1316.3 592.02,1314 596.95,1315.5 601.89,1321.6 606.82,1324.7 611.75,1311 616.69,1304.2 621.62,1299.6 626.55,1299.6 631.48,1319.2 636.42,1319.2 641.35,1283.5 646.28,1277.4 651.22,1253.1 656.15,1262.2 661.08,1256.2 666.01,1265.3 670.95,1257.7 675.88,1255.4 680.81,1257.7 685.75,1269.8 690.68,1264.5 695.61,1269.8 700.55,1268.3 705.48,1260.7 710.41,1263.8 715.35,1252.4 720.28,1247.1 725.21,1241 730.14,1247.1 735.08,1254.7 740.01,1263.8 744.94,1405.4 749.88,1420.6 754.81,1405.4 759.74,1406.9 764.67,1399.3 769.61,1409.9 774.54,1384.1 779.47,1407.7 784.41,1337.1 789.34,1335.5 794.27,1332.5 799.21,1364.4 804.14,1360.6 809.07,1368.9 814,1330.2 818.94,1365.9 823.87,1265.3 828.8,1265.3 833.74,1266.9 838.67,1266.9 843.6,1265.3 848.54,1255.9 853.47,1245.7 858.4,1264.5 863.34,1265.3 868.27,1273.2 873.2,1265.3 878.13,1263 883.07,1273.2 888,1257.5 892.93,1270 897.87,1259.8 902.8,1270 907.73,1270 912.66,1268.4 917.6,1259 922.53,1262.2 927.46,1273.2 932.4,1257.5 937.33,1249.6 942.26,1237.1 947.2,1253.5 952.13,1251.2" fill="none" stroke="#46a977" stroke-width="2.6" stroke-linejoin="round"/>
<path d="M103.65 1584v-8.3M103.65 1131v8.3M108.59 1584v-3.8M108.59 1131v3.8M113.52 1584v-8.3M113.52 1131v8.3M118.45 1584v-3.8M118.45 1131v3.8M123.38 1584v-8.3M123.38 1131v8.3M128.32 1584v-3.8M128.32 1131v3.8M133.25 1584v-8.3M133.25 1131v8.3M138.18 1584v-3.8M138.18 1131v3.8M143.12 1584v-8.3M143.12 1131v8.3M148.05 1584v-3.8M148.05 1131v3.8M152.98 1584v-8.3M152.98 1131v8.3M157.92 1584v-3.8M157.92 1131v3.8M162.85 1584v-8.3M162.85 1131v8.3M167.78 1584v-3.8M167.78 1131v3.8M172.72 1584v-8.3M172.72 1131v8.3M177.65 1584v-3.8M177.65 1131v3.8M182.58 1584v-8.3M182.58 1131v8.3M187.51 1584v-3.8M187.51 1131v3.8M192.45 1584v-8.3M192.45 1131v8.3M197.38 1584v-3.8M197.38 1131v3.8M202.31 1584v-8.3M202.31 1131v8.3M207.25 1584v-3.8M207.25 1131v3.8M212.18 1584v-8.3M212.18 1131v8.3M217.11 1584v-3.8M217.11 1131v3.8M222.04 1584v-8.3M222.04 1131v8.3M226.98 1584v-3.8M226.98 1131v3.8M231.91 1584v-8.3M231.91 1131v8.3M236.84 1584v-3.8M236.84 1131v3.8M241.78 1584v-8.3M241.78 1131v8.3M246.71 1584v-3.8M246.71 1131v3.8M251.64 1584v-8.3M251.64 1131v8.3M256.58 1584v-3.8M256.58 1131v3.8M261.51 1584v-8.3M261.51 1131v8.3M266.44 1584v-3.8M266.44 1131v3.8M271.38 1584v-8.3M271.38 1131v8.3M276.31 1584v-3.8M276.31 1131v3.8M281.24 1584v-8.3M281.24 1131v8.3M286.17 1584v-3.8M286.17 1131v3.8M291.11 1584v-8.3M291.11 1131v8.3M296.04 1584v-3.8M296.04 1131v3.8M300.97 1584v-8.3M300.97 1131v8.3M305.91 1584v-3.8M305.91 1131v3.8M310.84 1584v-8.3M310.84 1131v8.3M315.77 1584v-3.8M315.77 1131v3.8M320.7 1584v-8.3M320.7 1131v8.3M325.64 1584v-3.8M325.64 1131v3.8M330.57 1584v-8.3M330.57 1131v8.3M335.5 1584v-3.8M335.5 1131v3.8M340.44 1584v-8.3M340.44 1131v8.3M345.37 1584v-3.8M345.37 1131v3.8M350.3 1584v-8.3M350.3 1131v8.3M355.24 1584v-3.8M355.24 1131v3.8M360.17 1584v-8.3M360.17 1131v8.3M365.1 1584v-3.8M365.1 1131v3.8M370.03 1584v-8.3M370.03 1131v8.3M374.97 1584v-3.8M374.97 1131v3.8M379.9 1584v-8.3M379.9 1131v8.3M384.83 1584v-3.8M384.83 1131v3.8M389.77 1584v-8.3M389.77 1131v8.3M394.7 1584v-3.8M394.7 1131v3.8M399.63 1584v-8.3M399.63 1131v8.3M404.57 1584v-3.8M404.57 1131v3.8M409.5 1584v-8.3M409.5 1131v8.3M414.43 1584v-3.8M414.43 1131v3.8M419.37 1584v-8.3M419.37 1131v8.3M424.3 1584v-3.8M424.3 1131v3.8M429.23 1584v-8.3M429.23 1131v8.3M434.16 1584v-3.8M434.16 1131v3.8M439.1 1584v-8.3M439.1 1131v8.3M444.03 1584v-3.8M444.03 1131v3.8M448.96 1584v-8.3M448.96 1131v8.3M453.9 1584v-3.8M453.9 1131v3.8M458.83 1584v-8.3M458.83 1131v8.3M463.76 1584v-3.8M463.76 1131v3.8M468.69 1584v-8.3M468.69 1131v8.3M473.63 1584v-3.8M473.63 1131v3.8M478.56 1584v-8.3M478.56 1131v8.3M483.49 1584v-3.8M483.49 1131v3.8M488.43 1584v-8.3M488.43 1131v8.3M493.36 1584v-3.8M493.36 1131v3.8M498.29 1584v-8.3M498.29 1131v8.3M503.23 1584v-3.8M503.23 1131v3.8M508.16 1584v-8.3M508.16 1131v8.3M513.09 1584v-3.8M513.09 1131v3.8M518.02 1584v-8.3M518.02 1131v8.3M522.96 1584v-3.8M522.96 1131v3.8M527.89 1584v-8.3M527.89 1131v8.3M532.82 1584v-3.8M532.82 1131v3.8M537.76 1584v-8.3M537.76 1131v8.3M542.69 1584v-3.8M542.69 1131v3.8M547.62 1584v-8.3M547.62 1131v8.3M552.56 1584v-3.8M552.56 1131v3.8M557.49 1584v-8.3M557.49 1131v8.3M562.42 1584v-3.8M562.42 1131v3.8M567.36 1584v-8.3M567.36 1131v8.3M572.29 1584v-3.8M572.29 1131v3.8M577.22 1584v-8.3M577.22 1131v8.3M582.15 1584v-3.8M582.15 1131v3.8M587.09 1584v-8.3M587.09 1131v8.3M592.02 1584v-3.8M592.02 1131v3.8M596.95 1584v-8.3M596.95 1131v8.3M601.89 1584v-3.8M601.89 1131v3.8M606.82 1584v-8.3M606.82 1131v8.3M611.75 1584v-3.8M611.75 1131v3.8M616.69 1584v-8.3M616.69 1131v8.3M621.62 1584v-3.8M621.62 1131v3.8M626.55 1584v-8.3M626.55 1131v8.3M631.48 1584v-3.8M631.48 1131v3.8M636.42 1584v-8.3M636.42 1131v8.3M641.35 1584v-3.8M641.35 1131v3.8M646.28 1584v-8.3M646.28 1131v8.3M651.22 1584v-3.8M651.22 1131v3.8M656.15 1584v-8.3M656.15 1131v8.3M661.08 1584v-3.8M661.08 1131v3.8M666.01 1584v-8.3M666.01 1131v8.3M670.95 1584v-3.8M670.95 1131v3.8M675.88 1584v-8.3M675.88 1131v8.3M680.81 1584v-3.8M680.81 1131v3.8M685.75 1584v-8.3M685.75 1131v8.3M690.68 1584v-3.8M690.68 1131v3.8M695.61 1584v-8.3M695.61 1131v8.3M700.55 1584v-3.8M700.55 1131v3.8M705.48 1584v-8.3M705.48 1131v8.3M710.41 1584v-3.8M710.41 1131v3.8M715.35 1584v-8.3M715.35 1131v8.3M720.28 1584v-3.8M720.28 1131v3.8M725.21 1584v-8.3M725.21 1131v8.3M730.14 1584v-3.8M730.14 1131v3.8M735.08 1584v-8.3M735.08 1131v8.3M740.01 1584v-3.8M740.01 1131v3.8M744.94 1584v-8.3M744.94 1131v8.3M749.88 1584v-3.8M749.88 1131v3.8M754.81 1584v-8.3M754.81 1131v8.3M759.74 1584v-3.8M759.74 1131v3.8M764.67 1584v-8.3M764.67 1131v8.3M769.61 1584v-3.8M769.61 1131v3.8M774.54 1584v-8.3M774.54 1131v8.3M779.47 1584v-3.8M779.47 1131v3.8M784.41 1584v-8.3M784.41 1131v8.3M789.34 1584v-3.8M789.34 1131v3.8M794.27 1584v-8.3M794.27 1131v8.3M799.21 1584v-3.8M799.21 1131v3.8M804.14 1584v-8.3M804.14 1131v8.3M809.07 1584v-3.8M809.07 1131v3.8M814 1584v-8.3M814 1131v8.3M818.94 1584v-3.8M818.94 1131v3.8M823.87 1584v-8.3M823.87 1131v8.3M828.8 1584v-3.8M828.8 1131v3.8M833.74 1584v-8.3M833.74 1131v8.3M838.67 1584v-3.8M838.67 1131v3.8M843.6 1584v-8.3M843.6 1131v8.3M848.54 1584v-3.8M848.54 1131v3.8M853.47 1584v-8.3M853.47 1131v8.3M858.4 1584v-3.8M858.4 1131v3.8M863.34 1584v-8.3M863.34 1131v8.3M868.27 1584v-3.8M868.27 1131v3.8M873.2 1584v-8.3M873.2 1131v8.3M878.13 1584v-3.8M878.13 1131v3.8M883.07 1584v-8.3M883.07 1131v8.3M888 1584v-3.8M888 1131v3.8M892.93 1584v-8.3M892.93 1131v8.3M897.87 1584v-3.8M897.87 1131v3.8M902.8 1584v-8.3M902.8 1131v8.3M907.73 1584v-3.8M907.73 1131v3.8M912.66 1584v-8.3M912.66 1131v8.3M917.6 1584v-3.8M917.6 1131v3.8M922.53 1584v-8.3M922.53 1131v8.3M927.46 1584v-3.8M927.46 1131v3.8M932.4 1584v-8.3M932.4 1131v8.3M937.33 1584v-3.8M937.33 1131v3.8M942.26 1584v-8.3M942.26 1131v8.3M947.2 1584v-3.8M947.2 1131v3.8M952.13 1584v-8.3M952.13 1131v8.3M957.06 1584v-3.8M957.06 1131v3.8M98.7 1584h9.5M962.2 1584h-9.5M98.7 1558.83h4.6M962.2 1558.83h-4.6M98.7 1533.67h9.5M962.2 1533.67h-9.5M98.7 1508.5h4.6M962.2 1508.5h-4.6M98.7 1483.33h9.5M962.2 1483.33h-9.5M98.7 1458.17h4.6M962.2 1458.17h-4.6M98.7 1433h9.5M962.2 1433h-9.5M98.7 1407.83h4.6M962.2 1407.83h-4.6M98.7 1382.67h9.5M962.2 1382.67h-9.5M98.7 1357.5h4.6M962.2 1357.5h-4.6M98.7 1332.33h9.5M962.2 1332.33h-9.5M98.7 1307.17h4.6M962.2 1307.17h-4.6M98.7 1282h9.5M962.2 1282h-9.5M98.7 1256.83h4.6M962.2 1256.83h-4.6M98.7 1231.67h9.5M962.2 1231.67h-9.5M98.7 1206.5h4.6M962.2 1206.5h-4.6M98.7 1181.33h9.5M962.2 1181.33h-9.5M98.7 1156.17h4.6M962.2 1156.17h-4.6M98.7 1131h9.5M962.2 1131h-9.5" stroke="#1c1c1c" stroke-width="1.9" fill="none"/>
<rect x="98.7" y="1131" width="863.5" height="453" fill="none" stroke="#262626" stroke-width="2.4" stroke-linejoin="round"/>
<text x="87.6" y="1590.23" text-anchor="end" font-size="21.5" font-family="Liberation Serif" fill="#1c1c1c" stroke="#1c1c1c" stroke-width="0.5">398</text>
<text x="87.6" y="1539.9" text-anchor="end" font-size="21.5" font-family="Liberation Serif" fill="#1c1c1c" stroke="#1c1c1c" stroke-width="0.5">400</text>
<text x="87.6" y="1489.57" text-anchor="end" font-size="21.5" font-family="Liberation Serif" fill="#1c1c1c" stroke="#1c1c1c" stroke-width="0.5">402</text>
<text x="87.6" y="1439.23" text-anchor="end" font-size="21.5" font-family="Liberation Serif" fill="#1c1c1c" stroke="#1c1c1c" stroke-width="0.5">404</text>
<text x="87.6" y="1388.9" text-anchor="end" font-size="21.5" font-family="Liberation Serif" fill="#1c1c1c" stroke="#1c1c1c" stroke-width="0.5">406</text>
<text x="87.6" y="1338.57" text-anchor="end" font-size="21.5" font-family="Liberation Serif" fill="#1c1c1c" stroke="#1c1c1c" stroke-width="0.5">408</text>
<text x="87.6" y="1288.23" text-anchor="end" font-size="21.5" font-family="Liberation Serif" fill="#1c1c1c" stroke="#1c1c1c" stroke-width="0.5">410</text>
<text x="87.6" y="1237.9" text-anchor="end" font-size="21.5" font-family="Liberation Serif" fill="#1c1c1c" stroke="#1c1c1c" stroke-width="0.5">412</text>
<text x="87.6" y="1187.57" text-anchor="end" font-size="21.5" font-family="Liberation Serif" fill="#1c1c1c" stroke="#1c1c1c" stroke-width="0.5">414</text>
<text x="87.6" y="1137.23" text-anchor="end" font-size="21.5" font-family="Liberation Serif" fill="#1c1c1c" stroke="#1c1c1c" stroke-width="0.5">416</text>
<text x="143.6" y="1599.1" text-anchor="middle" font-size="15.4" font-family="Liberation Serif" fill="#1c1c1c" stroke="#1c1c1c" stroke-width="0.3">Jun</text>
<text x="251.4" y="1599.1" text-anchor="middle" font-size="15.4" font-family="Liberation Serif" fill="#1c1c1c" stroke="#1c1c1c" stroke-width="0.3">Jul</text>
<text x="389" y="1599.1" text-anchor="middle" font-size="15.4" font-family="Liberation Serif" fill="#1c1c1c" stroke="#1c1c1c" stroke-width="0.3">Aug</text>
<text x="475.7" y="1599.1" text-anchor="middle" font-size="15.4" font-family="Liberation Serif" fill="#1c1c1c" stroke="#1c1c1c" stroke-width="0.3">Sep</text>
<text x="533.4" y="1599.1" text-anchor="middle" font-size="15.4" font-family="Liberation Serif" fill="#1c1c1c" stroke="#1c1c1c" stroke-width="0.3">Oct</text>
<text x="594.1" y="1599.1" text-anchor="middle" font-size="15.4" font-family="Liberation Serif" fill="#1c1c1c" stroke="#1c1c1c" stroke-width="0.3">Nov</text>
<text x="625.4" y="1599.1" text-anchor="middle" font-size="15.4" font-family="Liberation Serif" fill="#1c1c1c" stroke="#1c1c1c" stroke-width="0.3">Dec</text>
<text x="658.8" y="1599.1" text-anchor="middle" font-size="15.4" font-family="Liberation Serif" fill="#1c1c1c" stroke="#1c1c1c" stroke-width="0.3">Feb</text>
<text x="714" y="1599.1" text-anchor="middle" font-size="15.4" font-family="Liberation Serif" fill="#1c1c1c" stroke="#1c1c1c" stroke-width="0.3">Mar</text>
<text x="762.6" y="1599.1" text-anchor="middle" font-size="15.4" font-family="Liberation Serif" fill="#1c1c1c" stroke="#1c1c1c" stroke-width="0.3">Aug</text>
<text x="800.6" y="1599.1" text-anchor="middle" font-size="15.4" font-family="Liberation Serif" fill="#1c1c1c" stroke="#1c1c1c" stroke-width="0.3">Sep</text>
<text x="851.6" y="1599.1" text-anchor="middle" font-size="15.4" font-family="Liberation Serif" fill="#1c1c1c" stroke="#1c1c1c" stroke-width="0.3">Oct</text>
<text x="910.5" y="1599.1" text-anchor="middle" font-size="15.4" font-family="Liberation Serif" fill="#1c1c1c" stroke="#1c1c1c" stroke-width="0.3">Nov</text>
<text x="954" y="1599.1" text-anchor="middle" font-size="15.4" font-family="Liberation Serif" fill="#1c1c1c" stroke="#1c1c1c" stroke-width="0.3">Dec</text>
<text transform="translate(23.1,1358.7) rotate(-90)" text-anchor="middle" font-size="23.5" font-family="Liberation Serif" fill="#1c1c1c" stroke="#1c1c1c" stroke-width="0.25">XCO<tspan font-size="15" dy="5">2</tspan><tspan dy="-5">(ppm)</tspan></text>
<text x="112.6" y="1563.8" font-size="25" font-family="Liberation Serif" fill="#1c1c1c" stroke="#1c1c1c" stroke-width="0.35" textLength="137.3" lengthAdjust="spacing"><tspan>(</tspan><tspan font-weight="bold">h</tspan><tspan>) Park Falls</tspan></text>
<text x="580.4" y="1566.9" font-size="25" font-family="Liberation Serif" fill="#1c1c1c" textLength="52.2" lengthAdjust="spacingAndGlyphs">2018</text>
<text x="905.3" y="1568.4" font-size="25" font-family="Liberation Serif" fill="#1c1c1c" textLength="51.4" lengthAdjust="spacingAndGlyphs">2019</text>
<rect x="108" y="1142.8" width="105.5" height="62" fill="#fff" stroke="#6a6a6a" stroke-width="1.3"/>
<line x1="109.4" y1="1154" x2="142.6" y2="1154" stroke="#e0525a" stroke-width="2.4"/>
<path d="M124.4 1154L126 1151.8L127.6 1154L126 1156.2Z" fill="#e0525a"/>
<text x="146.3" y="1159.3" font-size="15.6" font-family="Liberation Serif" fill="#1c1c1c" stroke="#1c1c1c" stroke-width="0.3">A Priori</text>
<line x1="109.4" y1="1173.6" x2="142.6" y2="1173.6" stroke="#3372cf" stroke-width="2.4"/>
<path d="M124.4 1173.6L126 1171.4L127.6 1173.6L126 1175.8Z" fill="#3372cf"/>
<text x="146.3" y="1178.9" font-size="15.6" font-family="Liberation Serif" fill="#1c1c1c" stroke="#1c1c1c" stroke-width="0.3">Retrieved</text>
<line x1="109.4" y1="1193.6" x2="142.6" y2="1193.6" stroke="#46a977" stroke-width="2.4"/>
<path d="M124.4 1193.6L126 1191.4L127.6 1193.6L126 1195.8Z" fill="#46a977"/>
<text x="146.3" y="1198.9" font-size="15.6" font-family="Liberation Serif" fill="#1c1c1c" stroke="#1c1c1c" stroke-width="0.3">Smoothed</text>
<text x="477" y="1660.7" font-size="29" font-family="Liberation Serif" fill="#111">(<tspan font-weight="bold">h</tspan>)</text>
</svg>
</body></html>
